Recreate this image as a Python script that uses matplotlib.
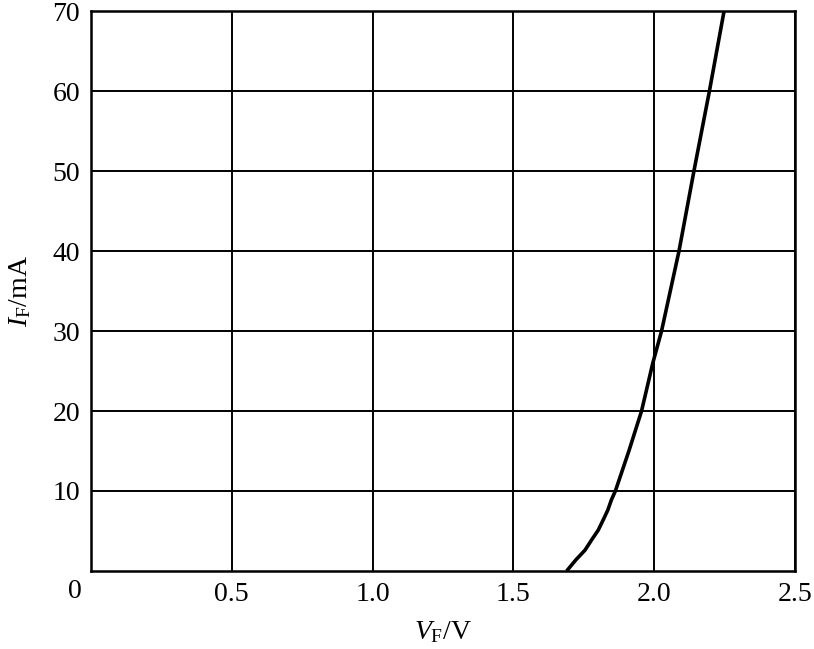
import matplotlib.pyplot as plt

plt.rcParams['font.family'] = 'Liberation Serif'
plt.rcParams['mathtext.fontset'] = 'custom'
plt.rcParams['mathtext.rm'] = 'Liberation Serif'
plt.rcParams['mathtext.it'] = 'Liberation Serif:italic'

# forward voltage (V) vs forward current (mA)
vf = [1.689, 1.722, 1.754, 1.778, 1.801, 1.819, 1.835, 1.848, 1.862,
      1.91, 1.955, 1.995, 2.026, 2.088, 2.141, 2.196, 2.248]
i_f = [0, 1.4, 2.6, 3.9, 5.1, 6.4, 7.6, 8.9, 10,
       15, 20, 26, 30, 40, 50, 60, 70]

x_ticks = [0.5, 1.0, 1.5, 2.0, 2.5]
x_labels = ['0.5', '1.0', '1.5', '2.0', '2.5']
y_ticks = [10, 20, 30, 40, 50, 60, 70]

fig = plt.figure(figsize=(8.14, 6.49), dpi=100)
ax = fig.add_axes([0.1118, 0.1202, 0.8649, 0.8628])

ax.plot(vf, i_f, color='black', lw=2.6, solid_capstyle='butt')

ax.set_xlim(0, 2.5)
ax.set_ylim(0, 70)
ax.set_xticks(x_ticks)
ax.set_xticklabels(x_labels)
ax.set_yticks(y_ticks)
ax.tick_params(length=0, labelsize=20)
ax.tick_params(axis='x', pad=8)
ax.tick_params(axis='y', pad=8)
ax.grid(True, color='black', lw=1.4)
for s in ax.spines.values():
    s.set_linewidth(1.8)

# origin label
ax.text(-0.023, -0.0143, '0', transform=ax.transAxes, fontsize=20,
        ha='center', va='top')

ax.set_xlabel(r'$V_{\mathrm{F}}$/V', fontsize=20, labelpad=9)
ax.set_ylabel(r'$I_{\mathrm{F}}$/mA', fontsize=20, labelpad=14)

fig.savefig('out.png', dpi=100)
